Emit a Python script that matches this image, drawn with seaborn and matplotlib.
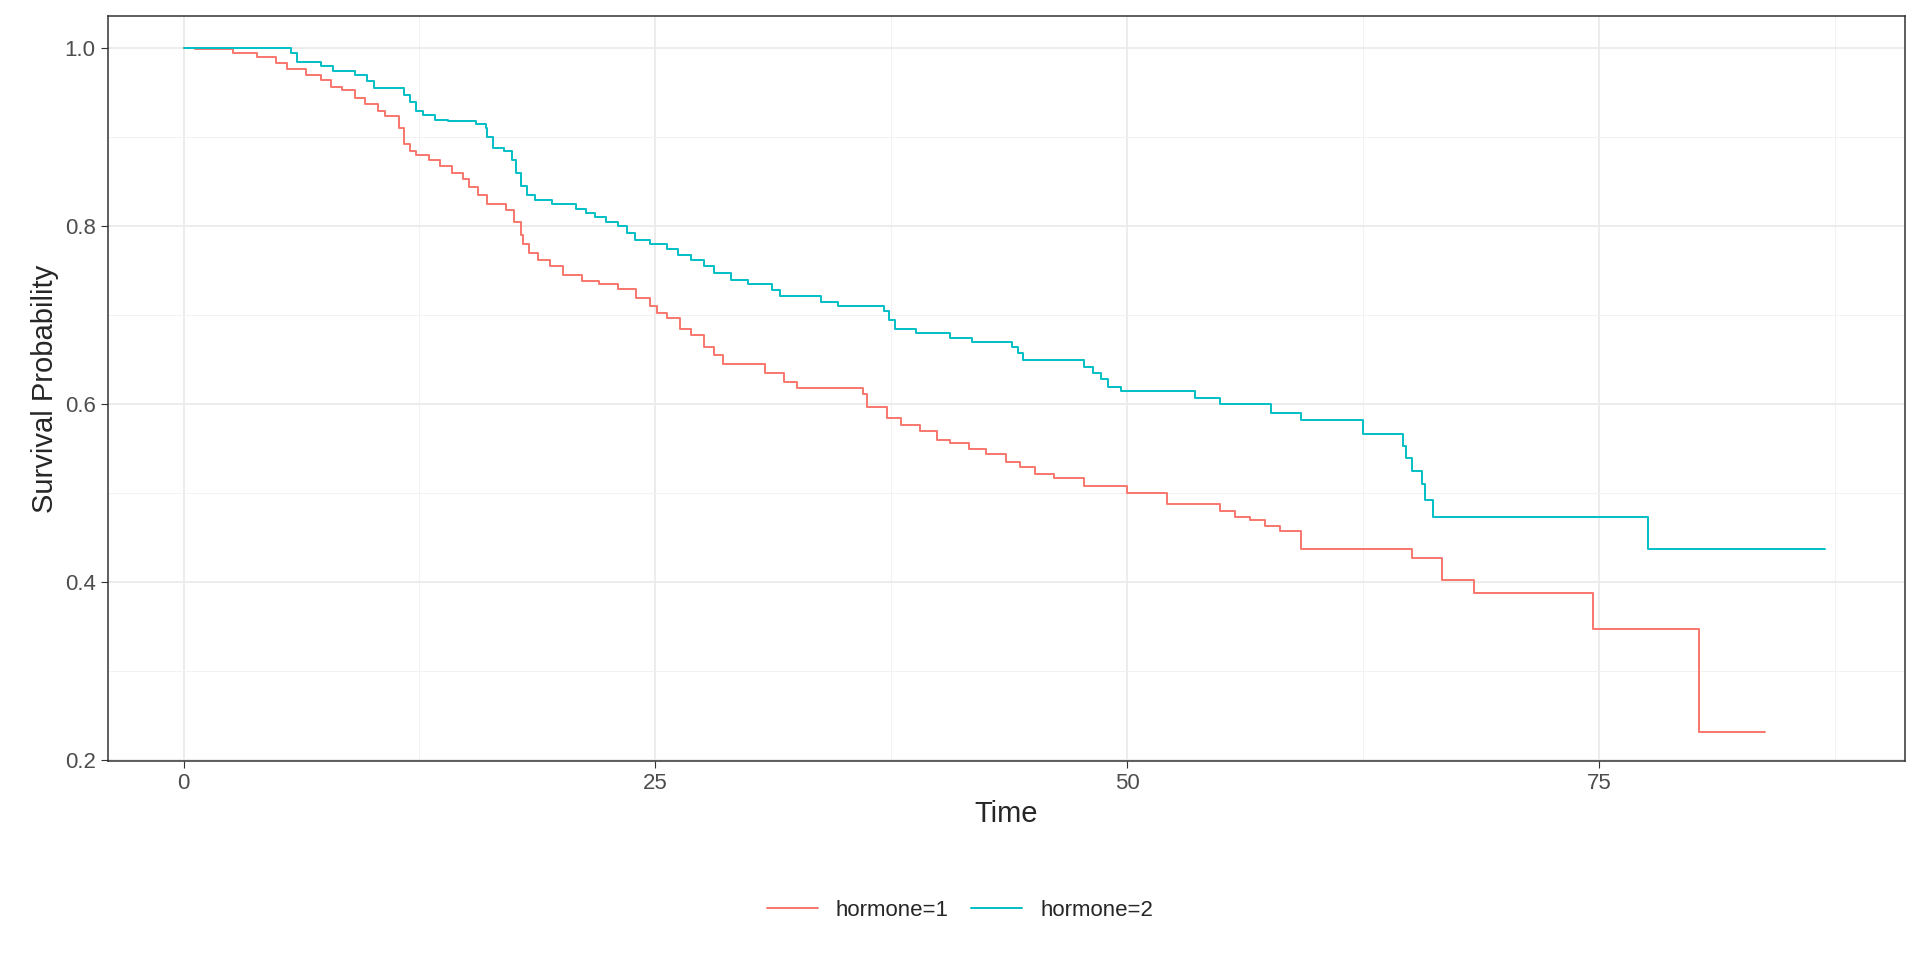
import pandas as pd
import matplotlib.pyplot as plt
import seaborn as sns
from matplotlib.ticker import MultipleLocator

# Kaplan-Meier step points
t1 = [0, 0.6, 2.6, 3.9, 4.9, 5.5, 6.5, 7.3, 7.8, 8.4, 9.1, 9.6, 10.3, 10.7, 11.4, 11.7, 12.0, 12.3,
      13.0, 13.6, 14.2, 14.8, 15.1, 15.6, 16.1, 17.1, 17.5, 17.9, 18.0, 18.3, 18.8, 19.4, 20.1, 21.1,
      22.0, 23.0, 24.0, 24.7, 25.1, 25.6, 26.3, 26.9, 27.6, 28.1, 28.6, 30.8, 31.8, 32.5, 36.0, 36.2,
      37.3, 38.0, 39.0, 39.9, 40.6, 41.6, 42.5, 43.6, 44.3, 45.1, 46.1, 47.7, 50.0, 52.1, 54.9, 55.7,
      56.5, 57.3, 58.1, 59.2, 65.1, 66.7, 68.4, 74.7, 80.3, 83.8]
s1 = [1.0, 0.999, 0.995, 0.99, 0.983, 0.977, 0.97, 0.965, 0.957, 0.953, 0.944, 0.937, 0.93, 0.924,
      0.91, 0.893, 0.885, 0.88, 0.875, 0.868, 0.86, 0.853, 0.844, 0.835, 0.825, 0.818, 0.805, 0.79,
      0.78, 0.77, 0.762, 0.755, 0.745, 0.739, 0.735, 0.73, 0.72, 0.71, 0.703, 0.697, 0.685, 0.678,
      0.665, 0.655, 0.645, 0.635, 0.625, 0.618, 0.612, 0.597, 0.585, 0.577, 0.57, 0.56, 0.557, 0.55,
      0.544, 0.535, 0.53, 0.522, 0.517, 0.508, 0.5, 0.488, 0.48, 0.474, 0.47, 0.463, 0.458, 0.438,
      0.427, 0.403, 0.388, 0.348, 0.232, 0.232]

t2 = [0, 5.7, 6.0, 7.3, 7.9, 9.1, 9.7, 10.1, 11.7, 12.0, 12.3, 12.7, 13.3, 14.0, 15.5, 16.0, 16.1,
      16.4, 17.0, 17.4, 17.6, 17.9, 18.2, 18.6, 19.5, 20.8, 21.3, 21.8, 22.4, 23.0, 23.5, 23.9, 24.7,
      25.6, 26.2, 26.9, 27.6, 28.1, 29.0, 29.9, 31.2, 31.6, 33.8, 34.7, 37.1, 37.4, 37.7, 38.8, 40.6,
      41.8, 43.9, 44.2, 44.5, 47.7, 48.2, 48.6, 49.0, 49.7, 53.6, 54.9, 57.6, 59.2, 62.5, 64.6, 64.8,
      65.1, 65.6, 65.8, 66.2, 77.6, 87.0]
s2 = [1.0, 0.995, 0.985, 0.98, 0.975, 0.97, 0.963, 0.955, 0.948, 0.94, 0.93, 0.925, 0.92, 0.918,
      0.915, 0.91, 0.9, 0.888, 0.885, 0.875, 0.86, 0.845, 0.835, 0.83, 0.825, 0.82, 0.815, 0.81,
      0.805, 0.8, 0.793, 0.785, 0.78, 0.775, 0.768, 0.762, 0.755, 0.748, 0.74, 0.735, 0.728, 0.722,
      0.715, 0.71, 0.705, 0.695, 0.685, 0.68, 0.675, 0.67, 0.665, 0.658, 0.65, 0.642, 0.635, 0.628,
      0.62, 0.615, 0.607, 0.6, 0.59, 0.582, 0.567, 0.553, 0.54, 0.525, 0.51, 0.493, 0.474, 0.438, 0.438]

df = pd.concat([
    pd.DataFrame({"Time": t1, "Survival": s1, "strata": "hormone=1"}),
    pd.DataFrame({"Time": t2, "Survival": s2, "strata": "hormone=2"}),
])

sns.set_style("white")
plt.rcParams["font.family"] = ["Liberation Sans", "DejaVu Sans"]

fig = plt.figure(figsize=(19.2, 9.6), dpi=100)
ax = fig.add_axes([0.056, 0.207, 0.936, 0.776])
sns.lineplot(data=df, x="Time", y="Survival", hue="strata", estimator=None, sort=False,
             drawstyle="steps-post", palette=["#F8766D", "#00BFC4"], linewidth=1.4, ax=ax, legend=False)

ax.set_xlim(-4.03, 91.2)
ax.set_ylim(0.199, 1.036)
ax.xaxis.set_major_locator(MultipleLocator(25))
ax.xaxis.set_minor_locator(MultipleLocator(12.5))
ax.yaxis.set_major_locator(MultipleLocator(0.2))
ax.yaxis.set_minor_locator(MultipleLocator(0.1))
ax.set_yticks([0.2, 0.4, 0.6, 0.8, 1.0])
ax.set_yticklabels(["0.2", "0.4", "0.6", "0.8", "1.0"])
ax.grid(which="major", color="#EBEBEB", linewidth=1.3)
ax.grid(which="minor", color="#F2F2F2", linewidth=0.7)
ax.set_axisbelow(True)
for sp in ax.spines.values():
    sp.set_color("#333333")
    sp.set_linewidth(1.1)
ax.tick_params(which="major", length=5, color="#333333", labelsize=16, labelcolor="#4D4D4D", direction="out",
               bottom=True, left=True)
ax.tick_params(which="minor", length=0)
ax.set_xlabel("Time", fontsize=21)
ax.set_ylabel("Survival Probability", fontsize=21)

handles = [plt.Line2D([], [], color=c, linewidth=1.4) for c in ["#F8766D", "#00BFC4"]]
fig.legend(handles, ["hormone=1", "hormone=2"], loc="center", bbox_to_anchor=(0.5, 0.052), ncol=2,
           frameon=False, fontsize=16, handlelength=2.3, columnspacing=1.0)

fig.savefig("out.png", dpi=100)
